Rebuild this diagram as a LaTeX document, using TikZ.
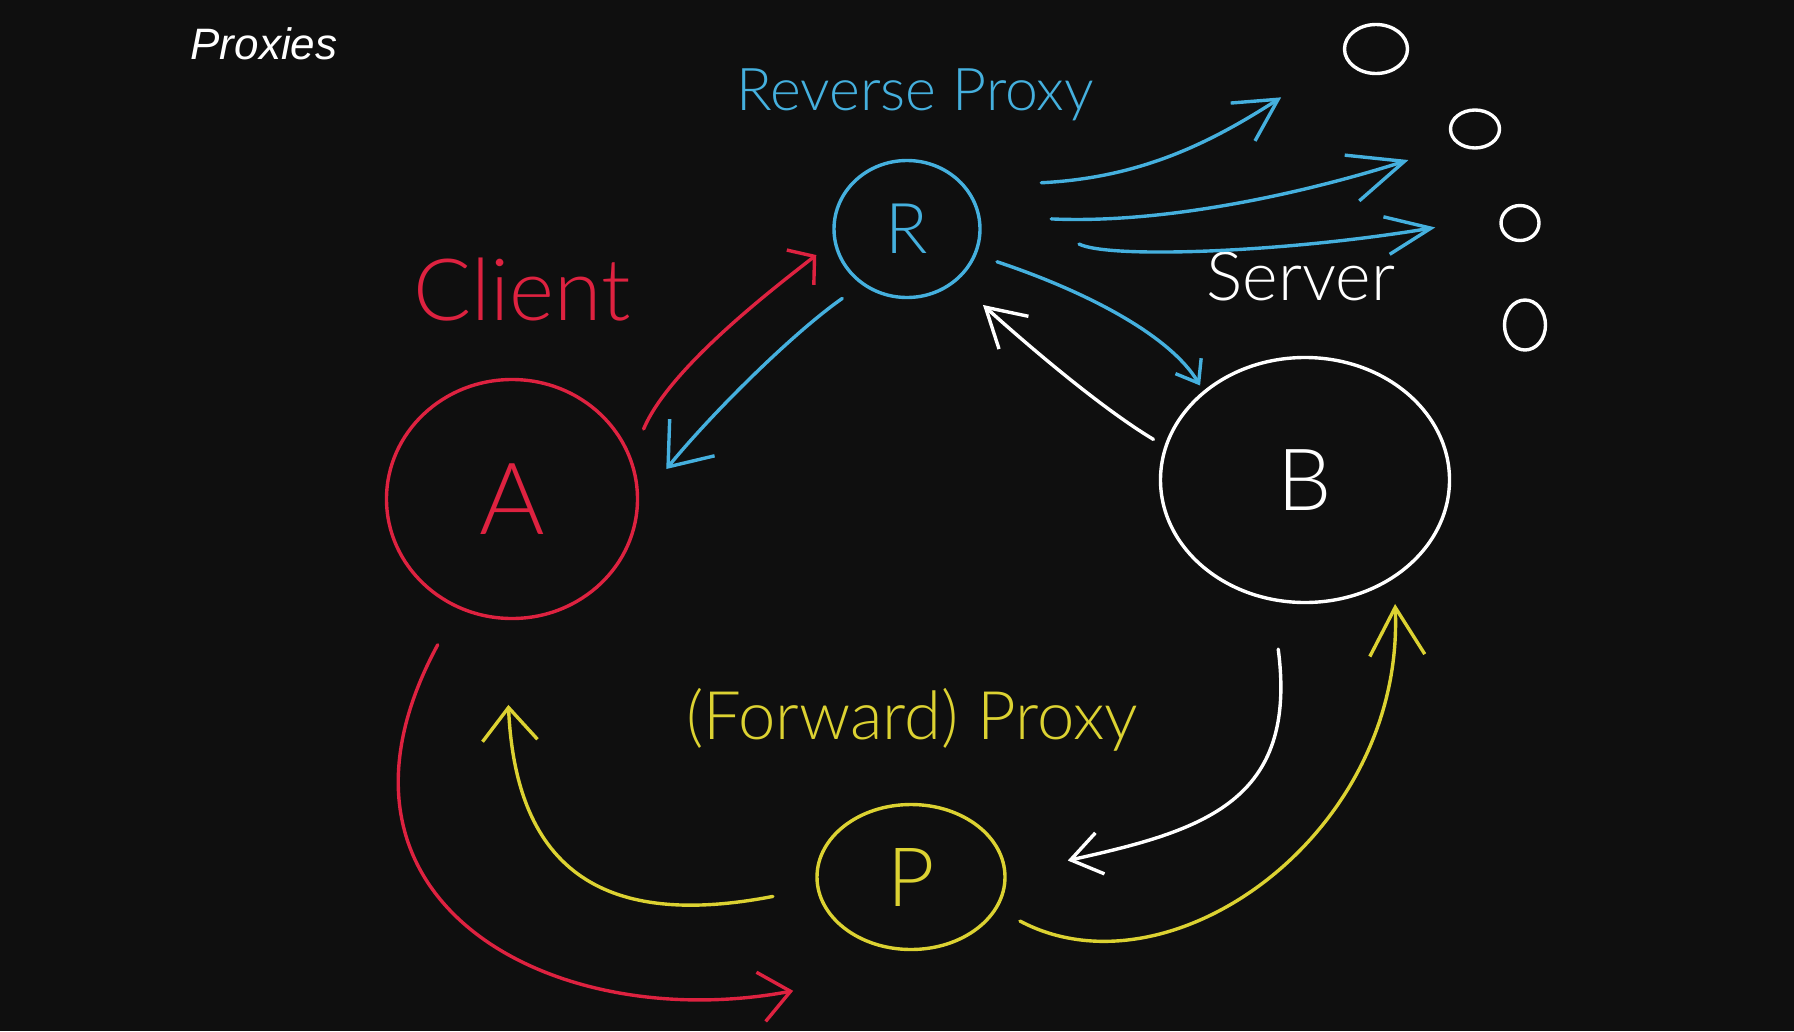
\documentclass[tikz,border=0pt]{standalone}
\usepackage{fontspec}
\setmainfont{Liberation Sans}
\newfontfamily\hand{Lato}[UprightFont={* Light}]
\usetikzlibrary{shapes.geometric,arrows.meta,calc}

\definecolor{board}{HTML}{0F0F0F}
\definecolor{penred}{HTML}{DE2240}
\definecolor{penblue}{HTML}{45B0DE}
\definecolor{penyellow}{HTML}{DCD232}

\begin{document}
\begin{tikzpicture}[x=1pt,y=-1pt,
  pen/.style={line width=3.4pt,line cap=round,line join=round},
  blob/.style={ellipse,draw,pen,inner sep=0pt},
  headed/.style 2 args={-{Straight Barb[length=#1,width=#2]}},
  hand/.style={font={\hand\fontsize{#1}{#1}\selectfont}}]

\fill [board] (0,0) rectangle (1794,1031);
\useasboundingbox (0,0) rectangle (1794,1031);

%\draw [step=100, dotted, gray] (0,0) grid (1794,1031);

\node [white,font={\itshape\fontsize{44pt}{44pt}\selectfont}] (title) at (264,44) {Proxies};
\node [hand=59pt,penblue] (revlabel) at (915,95) {Reverse Proxy};
\node [hand=86pt,penred] (clientlabel) at (522,290) {Client};
\node [hand=68pt,white] (serverlabel) at (1301,276) {Server};
\node [hand=67pt,penyellow] (fwdlabel) at (912,720) {(Forward) Proxy};

\node [blob,penred,minimum width=251pt,minimum height=239pt,hand=100pt] (A) at (512,499) {A};
\node [blob,penblue,minimum width=146pt,minimum height=137pt,hand=70pt] (R) at (907,229) {R};
\node [blob,white,minimum width=289pt,minimum height=245pt,hand=86pt] (B) at (1305,480) {B};
\node [blob,penyellow,minimum width=188pt,minimum height=145pt,hand=82pt] (P) at (911,877) {P};

\node [blob,white,minimum width=63pt,minimum height=49pt] (s1) at (1376,49) {};
\node [blob,white,minimum width=49pt,minimum height=38pt] (s2) at (1475,129) {};
\node [blob,white,minimum width=38pt,minimum height=35pt] (s3) at (1520,223) {};
\node [blob,white,minimum width=41pt,minimum height=50pt] (s4) at (1525,325) {};

% reverse proxy side
\draw [pen,penred,headed={18pt}{44pt}] ($(A.center)!1.185!(A.28)$) .. controls +(25,-60) and +(-45,35) .. ($(R.center)!1.27!(R.196)$);
\draw [pen,penblue,headed={38pt}{58pt}] ($(R.center)!1.315!(R.227)$) .. controls +(-50,35) and +(45,-55) .. ($(A.center)!1.238!(A.11)$);
\draw [pen,penblue,headed={20pt}{30pt}] ($(R.center)!1.293!(R.-20)$) .. controls +(90,30) and +(-30,-50) .. ($(B.center)!1.046!(B.138)$);
\draw [pen,white,headed={38pt}{44pt}] ($(B.center)!1.087!(B.165)$) .. controls +(-50,-30) and +(50,45) .. ($(R.center)!1.485!(R.-45)$);

% fan out to the servers
\draw [pen,penblue,headed={42pt}{45pt}] ($(R.center)!1.915!(R.19)$) .. controls +(100,-5) and +(-70,45) .. ($(s1.center)!3.4!(s1.207)$);
\draw [pen,penblue,headed={55pt}{48pt}] ($(R.center)!1.937!(R.4)$) .. controls +(110,5) and +(-110,35) .. ($(s2.center)!2.95!(s2.205)$);
\draw [pen,penblue,headed={45pt}{38pt}] ($(R.center)!2.313!(R.-5)$) .. controls +(30,15) and +(-150,25) .. ($(s3.center)!4.1!(s3.183)$);

% forward proxy side
\draw [pen,penred,headed={30pt}{50pt}] ($(A.center)!1.337!(A.243)$) .. controls +(-139,257) and +(-240,45) .. ($(P.center)!1.967!(P.224)$);
\draw [pen,penyellow,headed={33pt}{55pt}] ($(P.center)!1.467!(P.188)$) .. controls +(-155,30) and +(8,178) .. ($(A.center)!1.699!(A.269)$);
\draw [pen,white,headed={30pt}{42pt}] ($(B.center)!1.374!(B.261)$) .. controls +(20,153) and +(135,-30) .. ($(P.center)!1.653!(P.6)$);
\draw [pen,penyellow,headed={48pt}{55pt}] ($(P.center)!1.284!(P.-22)$) .. controls +(150,80) and +(10,230) .. ($(B.center)!1.173!(B.-54)$);

\end{tikzpicture}
\end{document}
